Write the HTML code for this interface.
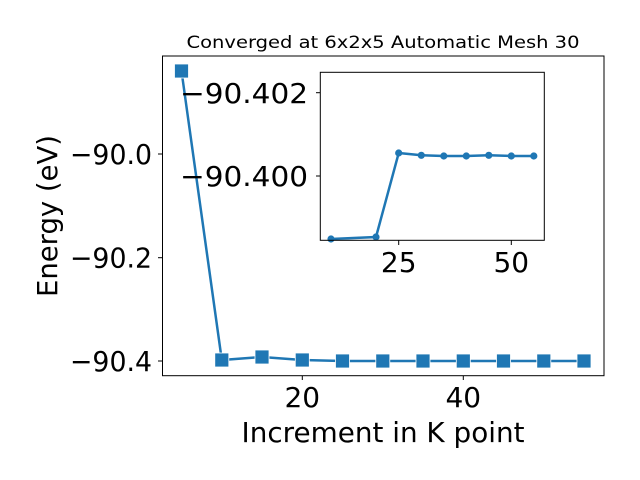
<!DOCTYPE html>
<html><head><style>html,body{margin:0;padding:0;background:#fff}svg{display:block}</style></head>
<body>
<svg width="640" height="480" viewBox="0 0 640 480" xmlns="http://www.w3.org/2000/svg" font-family="DejaVu Sans, Liberation Sans, sans-serif">
<rect width="640" height="480" fill="#fff"/>
<text x="383" y="48" font-size="17" text-anchor="middle" textLength="393" lengthAdjust="spacingAndGlyphs">Converged at 6x2x5 Automatic Mesh 30</text>
<polyline fill="none" stroke="#1f77b4" stroke-width="2.5" points="181.5,71 221.8,360 262,357 302.3,360 342.5,361 382.8,361 423,361 463.3,361 503.5,361 543.8,361 584,361"/>
<g fill="#1f77b4" stroke="#fff" stroke-width="0.8">
<rect x="174.5" y="64" width="14" height="14"/>
<rect x="214.8" y="353" width="14" height="14"/>
<rect x="255" y="350" width="14" height="14"/>
<rect x="295.3" y="353" width="14" height="14"/>
<rect x="335.5" y="354" width="14" height="14"/>
<rect x="375.8" y="354" width="14" height="14"/>
<rect x="416" y="354" width="14" height="14"/>
<rect x="456.3" y="354" width="14" height="14"/>
<rect x="496.5" y="354" width="14" height="14"/>
<rect x="536.8" y="354" width="14" height="14"/>
<rect x="577" y="354" width="14" height="14"/>
</g>
<rect x="162.5" y="56" width="441.5" height="319.7" fill="none" stroke="#000" stroke-width="1"/>
<g stroke="#000" stroke-width="1">
<line x1="158" y1="154" x2="162.5" y2="154"/>
<line x1="158" y1="257.7" x2="162.5" y2="257.7"/>
<line x1="158" y1="361" x2="162.5" y2="361"/>
<line x1="302.3" y1="375.7" x2="302.3" y2="380"/>
<line x1="463.3" y1="375.7" x2="463.3" y2="380"/>
</g>
<g font-size="28" text-anchor="end">
<text x="152" y="164" textLength="82" lengthAdjust="spacingAndGlyphs">−90.0</text>
<text x="152" y="267.7" textLength="82" lengthAdjust="spacingAndGlyphs">−90.2</text>
<text x="152" y="371" textLength="82" lengthAdjust="spacingAndGlyphs">−90.4</text>
</g>
<g font-size="28" text-anchor="middle">
<text x="302.3" y="407">20</text>
<text x="463.3" y="407">40</text>
</g>
<text x="383" y="442" font-size="28" text-anchor="middle" textLength="283" lengthAdjust="spacingAndGlyphs">Increment in K point</text>
<text transform="translate(57,216) rotate(-90)" font-size="28" text-anchor="middle" textLength="162" lengthAdjust="spacingAndGlyphs">Energy (eV)</text>
<rect x="320.3" y="72.3" width="224" height="168" fill="#fff"/>
<polyline fill="none" stroke="#1f77b4" stroke-width="2.5" points="331,239 376,237 398.7,153 421.3,155.3 443.8,156 466.3,156 488.8,155.3 511.3,156 533.8,156"/>
<g fill="#1f77b4">
<circle cx="331" cy="239" r="3.6"/><circle cx="376" cy="237" r="3.6"/><circle cx="398.7" cy="153" r="3.6"/>
<circle cx="421.3" cy="155.3" r="3.6"/><circle cx="443.8" cy="156" r="3.6"/><circle cx="466.3" cy="156" r="3.6"/>
<circle cx="488.8" cy="155.3" r="3.6"/><circle cx="511.3" cy="156" r="3.6"/><circle cx="533.8" cy="156" r="3.6"/>
</g>
<rect x="320.3" y="72.3" width="224" height="168" fill="none" stroke="#000" stroke-width="1"/>
<g stroke="#000" stroke-width="1">
<line x1="316" y1="92.7" x2="320.3" y2="92.7"/>
<line x1="316" y1="176" x2="320.3" y2="176"/>
<line x1="398.7" y1="240.3" x2="398.7" y2="245"/>
<line x1="511.3" y1="240.3" x2="511.3" y2="245"/>
</g>
<g font-size="28" text-anchor="end">
<text x="308" y="103" textLength="128" lengthAdjust="spacingAndGlyphs">−90.402</text>
<text x="308" y="186" textLength="128" lengthAdjust="spacingAndGlyphs">−90.400</text>
</g>
<g font-size="28" text-anchor="middle">
<text x="398.7" y="272">25</text>
<text x="511.3" y="272">50</text>
</g>
</svg>
</body></html>
